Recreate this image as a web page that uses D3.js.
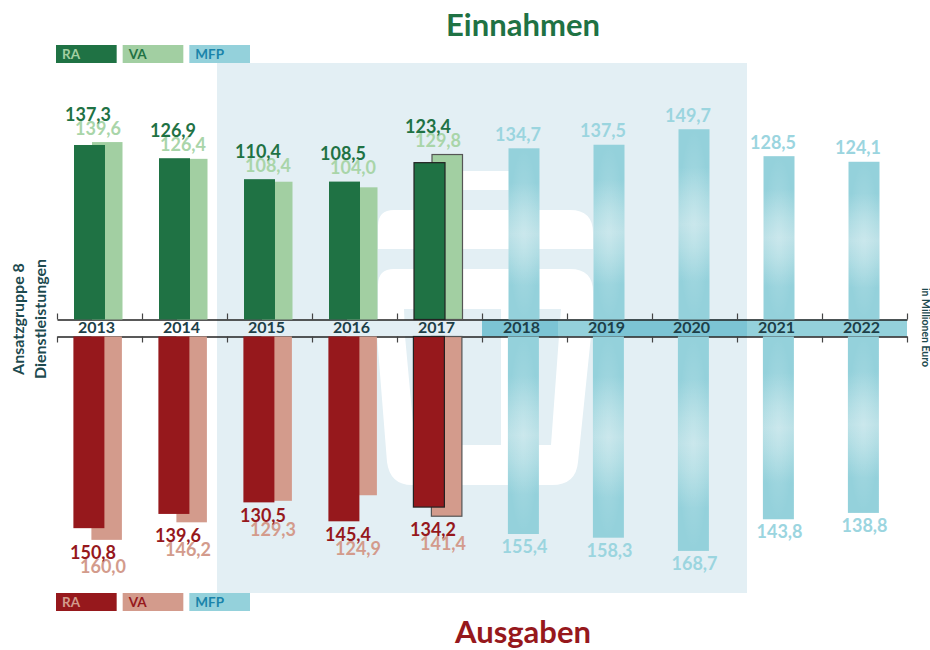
<!DOCTYPE html>
<html lang="de">
<head>
<meta charset="utf-8">
<title>Ansatzgruppe 8 Dienstleistungen</title>
<script src="https://cdn.jsdelivr.net/npm/d3@7"></script>
<style>
  html, body { margin: 0; background: #fff; }
  svg { display: block; font-family: Lato, "Open Sans", sans-serif; font-weight: 700; }
</style>
</head>
<body>
<div id="chart"></div>
<script>
// Values in million euro
const years = ["2013", "2014", "2015", "2016", "2017", "2018", "2019", "2020", "2021", "2022"];
const actualYears = ["2013", "2014", "2015", "2016", "2017"];
const planYears = ["2018", "2019", "2020", "2021", "2022"];

const incomeRA = [137.3, 126.9, 110.4, 108.5, 123.4];
const incomeVA = [139.6, 126.4, 108.4, 104.0, 129.8];
const incomeMFP = [134.7, 137.5, 149.7, 128.5, 124.1];

const spendRA = [150.8, 139.6, 130.5, 145.4, 134.2];
const spendVA = [160.0, 146.2, 129.3, 124.9, 141.4];
const spendMFP = [155.4, 158.3, 168.7, 143.8, 138.8];

const legendLabels = ["RA", "VA", "MFP"];
const highlightYear = "2017";

const width = 930, height = 650;
const axisTopY = 319.5, axisBottomY = 336.5;
const pxPerUnit = 1.271;

const green = "#1f7244", greenLight = "#a2cfa2", greenLabel = "#a9d5a9";
const red = "#96181c", redLight = "#d39b8c";
const teal = "#94d1db", tealDark = "#7cc4d4", tealLabel = "#9bd5df";
const panel = "#e3eff4", dark = "#1d3f48";

const fmt = v => v.toFixed(1).replace(".", ",");

const svg = d3.select("#chart").append("svg")
    .attr("width", width)
    .attr("height", height);

// Gradients of the plan bars
const defs = svg.append("defs");
const fade = defs.append("linearGradient").attr("id", "mfpFade").attr("x1", 0).attr("x2", 0).attr("y1", 0).attr("y2", 1);
[[0, teal], [0.2, teal], [0.38, "#aedce3"], [0.5, "#bce1e7"], [0.62, "#aedce3"], [0.8, teal], [1, teal]]
    .forEach(s => fade.append("stop").attr("offset", s[0]).attr("stop-color", s[1]));
const glow = defs.append("radialGradient").attr("id", "mfpGlow");
glow.append("stop").attr("offset", 0).attr("stop-color", "#fff").attr("stop-opacity", 0.22);
glow.append("stop").attr("offset", 1).attr("stop-color", "#fff").attr("stop-opacity", 0);

// Scales
const x = d3.scaleBand().domain(years).range([57, 907]);
const edge = d3.scaleLinear().domain([0, years.length]).range([57, 907]);
const yUp = d3.scaleLinear().domain([0, 200]).range([axisTopY, axisTopY - 200 * pxPerUnit]);
const yDown = d3.scaleLinear().domain([0, 200]).range([axisBottomY, axisBottomY + 200 * pxPerUnit]);

// Background panel with the white logo
const bg = svg.append("g");
bg.append("rect").attr("x", 217).attr("y", 63).attr("width", 530).attr("height", 530).attr("fill", panel);
bg.append("path").attr("fill", "#fff")
    .attr("d", "M420,171H535V190H420Z"
        + "M378,226Q378,210 394,210H570Q593,210 593,233V249H378Z"
        + "M378,285Q378,269 394,269H570Q593,269 593,292V320H378Z"
        + "M377,336H591L578,462Q576,485 552,485H412Q390,485 387,462Z");
bg.append("path").attr("fill", panel)
    .attr("d", "M404,309H501V445H415L405,336Z M510,309H561L551,445H510Z");

// Strip of the plan years between the two axes, darker where it crosses the panel
svg.append("rect")
    .attr("x", x(planYears[0]))
    .attr("y", axisTopY)
    .attr("width", edge(years.length) - x(planYears[0]))
    .attr("height", axisBottomY - axisTopY)
    .attr("fill", teal);
svg.selectAll(".stripDark")
    .data([[482, 558], [593, 747]])
  .enter().append("rect")
    .attr("class", "stripDark")
    .attr("x", d => d[0])
    .attr("y", axisTopY)
    .attr("width", d => d[1] - d[0])
    .attr("height", axisBottomY - axisTopY)
    .attr("fill", tealDark);

// Axes, ticks sit on the borders of the years
function styleAxis(g) {
    g.select(".domain").attr("stroke", "#222").attr("stroke-width", 1.4);
    g.selectAll(".tick line").attr("stroke", "#444").attr("stroke-width", 1.2);
    g.selectAll(".tick text").remove();
}
svg.append("g")
    .attr("transform", `translate(0,${axisTopY})`)
    .call(d3.axisTop(edge).tickValues(d3.range(years.length + 1)).tickSize(6).tickSizeOuter(0))
    .call(styleAxis);
svg.append("g")
    .attr("transform", `translate(0,${axisBottomY})`)
    .call(d3.axisBottom(edge).tickValues(d3.range(years.length + 1)).tickSize(6).tickSizeOuter(0))
    .call(styleAxis);

// One half of the chart: up for Einnahmen, down for Ausgaben
function drawHalf(cfg) {
    const g = svg.append("g");
    const y = cfg.y;
    const zero = y(0);
    const shift = cfg.shift;

    const barRect = (sel, offset, w) => sel
        .attr("x", d => x(d.year) + offset + shift)
        .attr("width", w)
        .attr("y", d => Math.min(y(d.value), zero))
        .attr("height", d => Math.abs(y(d.value) - zero));

    g.selectAll(".va")
        .data(actualYears.map((year, i) => ({ year, value: cfg.va[i] })))
      .enter().append("rect")
        .attr("class", "va")
        .call(barRect, 35, 30.5)
        .attr("fill", cfg.lightColor)
        .attr("stroke", d => d.year === highlightYear ? "#555" : "none")
        .attr("stroke-width", 1.2);

    g.selectAll(".ra")
        .data(actualYears.map((year, i) => ({ year, value: cfg.ra[i] })))
      .enter().append("rect")
        .attr("class", "ra")
        .call(barRect, 17, 31)
        .attr("fill", cfg.color)
        .attr("stroke", d => d.year === highlightYear ? "#222" : "none")
        .attr("stroke-width", 1.2);

    const mfp = planYears.map((year, i) => ({ year, value: cfg.mfp[i] }));
    g.selectAll(".mfp")
        .data(mfp)
      .enter().append("rect")
        .attr("class", "mfp")
        .call(barRect, 26.5, 31)
        .attr("fill", "url(#mfpFade)");
    g.selectAll(".mfpGlow")
        .data(mfp)
      .enter().append("rect")
        .attr("class", "mfpGlow")
        .call(barRect, 26.5, 31)
        .attr("fill", "url(#mfpGlow)");

    // Value labels, the pale VA label hangs below and right of the RA label
    const outer = actualYears.map((year, i) => cfg.outer(y(cfg.ra[i]), y(cfg.va[i])));
    g.selectAll(".labelVA")
        .data(cfg.va)
      .enter().append("text")
        .attr("class", "labelVA")
        .attr("x", (d, i) => x(actualYears[i]) + cfg.labelX + 10)
        .attr("y", (d, i) => outer[i] + cfg.labelGap + 14)
        .attr("text-anchor", "middle")
        .attr("font-size", 18)
        .attr("fill", cfg.lightLabel)
        .text(fmt);
    g.selectAll(".labelRA")
        .data(cfg.ra)
      .enter().append("text")
        .attr("class", "labelRA")
        .attr("x", (d, i) => x(actualYears[i]) + cfg.labelX)
        .attr("y", (d, i) => outer[i] + cfg.labelGap)
        .attr("text-anchor", "middle")
        .attr("font-size", 18)
        .attr("fill", cfg.color)
        .text(fmt);
    g.selectAll(".labelMFP")
        .data(cfg.mfp)
      .enter().append("text")
        .attr("class", "labelMFP")
        .attr("x", (d, i) => x(planYears[i]) + cfg.mfpLabelX)
        .attr("y", d => y(d) + cfg.mfpGap)
        .attr("text-anchor", "middle")
        .attr("font-size", 18)
        .attr("fill", tealLabel)
        .text(fmt);
}

drawHalf({
    y: yUp, ra: incomeRA, va: incomeVA, mfp: incomeMFP, shift: 0,
    color: green, lightColor: greenLight, lightLabel: greenLabel,
    outer: Math.min, labelX: 31, labelGap: -21.4, mfpLabelX: 36, mfpGap: -7.5
});
drawHalf({
    y: yDown, ra: spendRA, va: spendVA, mfp: spendMFP, shift: -0.6,
    color: red, lightColor: redLight, lightLabel: redLight,
    outer: Math.max, labelX: 36, labelGap: 19.5, mfpLabelX: 42.5, mfpGap: 19
});

// Year labels
svg.append("g")
    .attr("transform", `translate(-3,${axisTopY + 2})`)
    .call(d3.axisBottom(x).tickSize(0).tickPadding(0))
    .call(g => g.select(".domain").remove())
    .selectAll("text")
    .attr("font-family", "Lato")
    .attr("font-weight", 700)
    .attr("font-size", 16)
    .attr("fill", dark);

// Legends
const legendX = d3.scaleBand().domain(legendLabels).range([56, 250]).paddingInner(0.09);
function drawLegend(top, fills, textFills) {
    const g = svg.append("g");
    g.selectAll("rect")
        .data(legendLabels)
      .enter().append("rect")
        .attr("x", d => legendX(d))
        .attr("y", top)
        .attr("width", legendX.bandwidth())
        .attr("height", 18)
        .attr("fill", (d, i) => fills[i]);
    g.selectAll("text")
        .data(legendLabels)
      .enter().append("text")
        .attr("x", d => legendX(d) + 6)
        .attr("y", top + 14.3)
        .attr("font-size", 13.5)
        .attr("fill", (d, i) => textFills[i])
        .text(d => d);
}
drawLegend(45, [green, greenLight, teal], [greenLight, green, "#1a84aa"]);
drawLegend(593, [red, redLight, teal], [redLight, red, "#1a84aa"]);

// Titles
svg.append("text").attr("x", 523).attr("y", 36).attr("text-anchor", "middle")
    .attr("font-size", 31).attr("fill", green).text("Einnahmen");
svg.append("text").attr("x", 523).attr("y", 643).attr("text-anchor", "middle")
    .attr("font-size", 31).attr("fill", red).text("Ausgaben");

// Side labels
[["Ansatzgruppe 8", 24], ["Dienstleistungen", 46]].forEach(d => {
    svg.append("text")
        .attr("transform", `translate(${d[1]},319) rotate(-90)`)
        .attr("text-anchor", "middle")
        .attr("font-size", 16)
        .attr("fill", "#1d4a4f")
        .text(d[0]);
});
svg.append("text")
    .attr("transform", "translate(922,327.5) rotate(90)")
    .attr("text-anchor", "middle")
    .attr("font-size", 10.5)
    .attr("fill", "#1d4a4f")
    .text("in Millionen Euro");
</script>
</body>
</html>
